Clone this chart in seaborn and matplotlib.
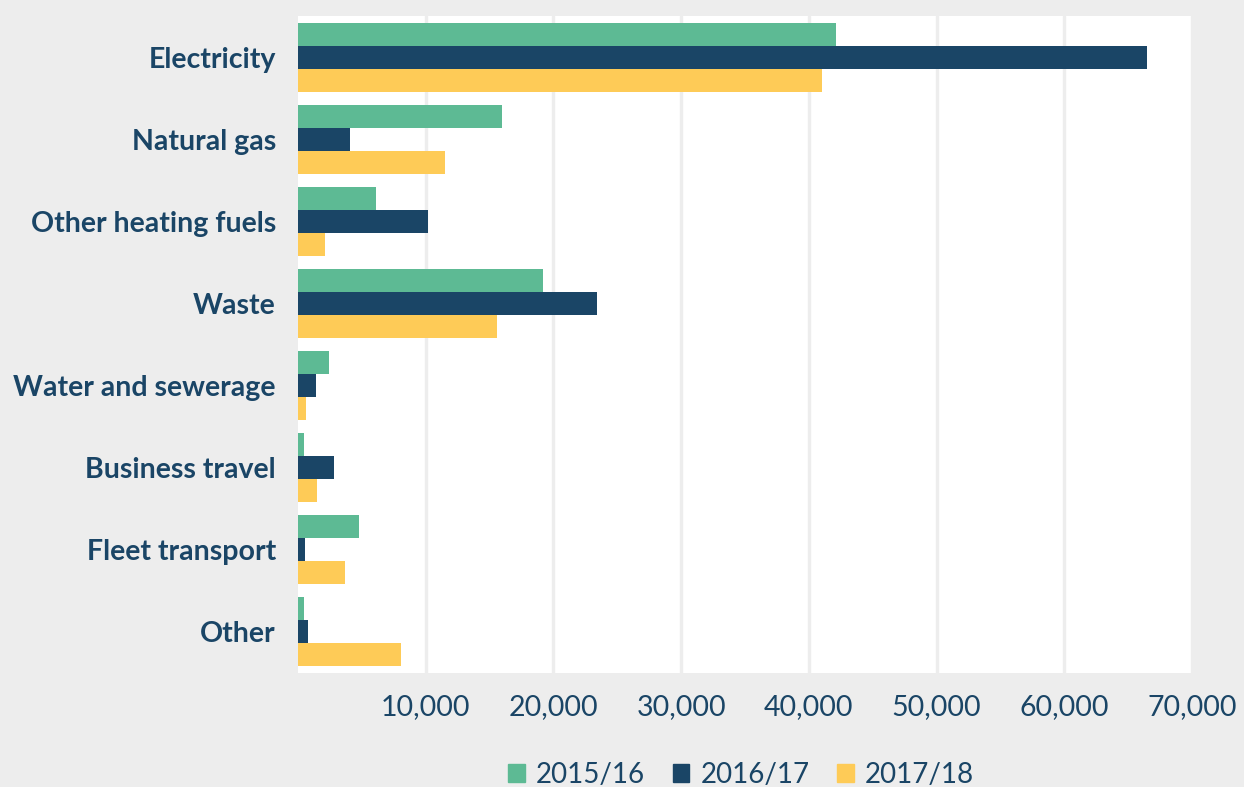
import pandas as pd
import seaborn as sns
import matplotlib.pyplot as plt

categories = ["Electricity", "Natural gas", "Other heating fuels", "Waste",
              "Water and sewerage", "Business travel", "Fleet transport", "Other"]
years = ["2015/16", "2016/17", "2017/18"]
v_2015 = [42100, 16000, 6100, 19150, 2400, 450, 4800, 450]
v_2016 = [66450, 4100, 10200, 23450, 1400, 2850, 550, 800]
v_2017 = [41000, 11500, 2100, 15600, 650, 1450, 3700, 8100]

colors = ["#5dba94", "#1a4566", "#fecb57"]
text_color = "#1a4566"
bg = "#ededed"

# long form table for seaborn
rows = []
for yr, vals in zip(years, [v_2015, v_2016, v_2017]):
    for cat, v in zip(categories, vals):
        rows.append({"category": cat, "year": yr, "value": v})
df = pd.DataFrame(rows)

sns.set_style("white")
plt.rcParams['font.family'] = ['Lato', 'DejaVu Sans']

fig = plt.figure(figsize=(12.44, 7.87), dpi=100, facecolor=bg)
ax = fig.add_axes([298/1244, 1 - 673/787, (1192 - 298)/1244, (673 - 16)/787])
ax.set_facecolor("white")

sns.barplot(data=df, y="category", x="value", hue="year", order=categories,
            hue_order=years, palette=colors, orient="h", width=0.84,
            linewidth=0, saturation=1, ax=ax)

ax.set_xlim(0, 70000)
ax.set_ylim(7.5, -0.5)
ax.set_xticks(range(10000, 70001, 10000))
ax.set_xticklabels([f"{t:,}" for t in range(10000, 70001, 10000)])
ax.xaxis.grid(True, color=bg, linewidth=2.4)
ax.set_axisbelow(True)
for s in ax.spines.values():
    s.set_visible(False)
ax.set_xlabel("")
ax.set_ylabel("")
ax.tick_params(axis="x", length=0, pad=15, labelsize=20.5, labelcolor=text_color)
ax.tick_params(axis="y", length=0, pad=16, labelsize=20.5, labelcolor=text_color)
for lbl in ax.get_yticklabels():
    lbl.set_fontweight("bold")

ax.get_legend().remove()
handles = [plt.Rectangle((0, 0), 1, 1, color=c) for c in colors]
fig.legend(handles, years, loc="center", bbox_to_anchor=(741/1244, 1 - 775/787),
           ncol=3, frameon=False, fontsize=20, handlelength=0.6, handleheight=0.6,
           handletextpad=0.4, columnspacing=1.0, labelcolor=text_color)

fig.savefig("out.png", dpi=100, facecolor=bg)
